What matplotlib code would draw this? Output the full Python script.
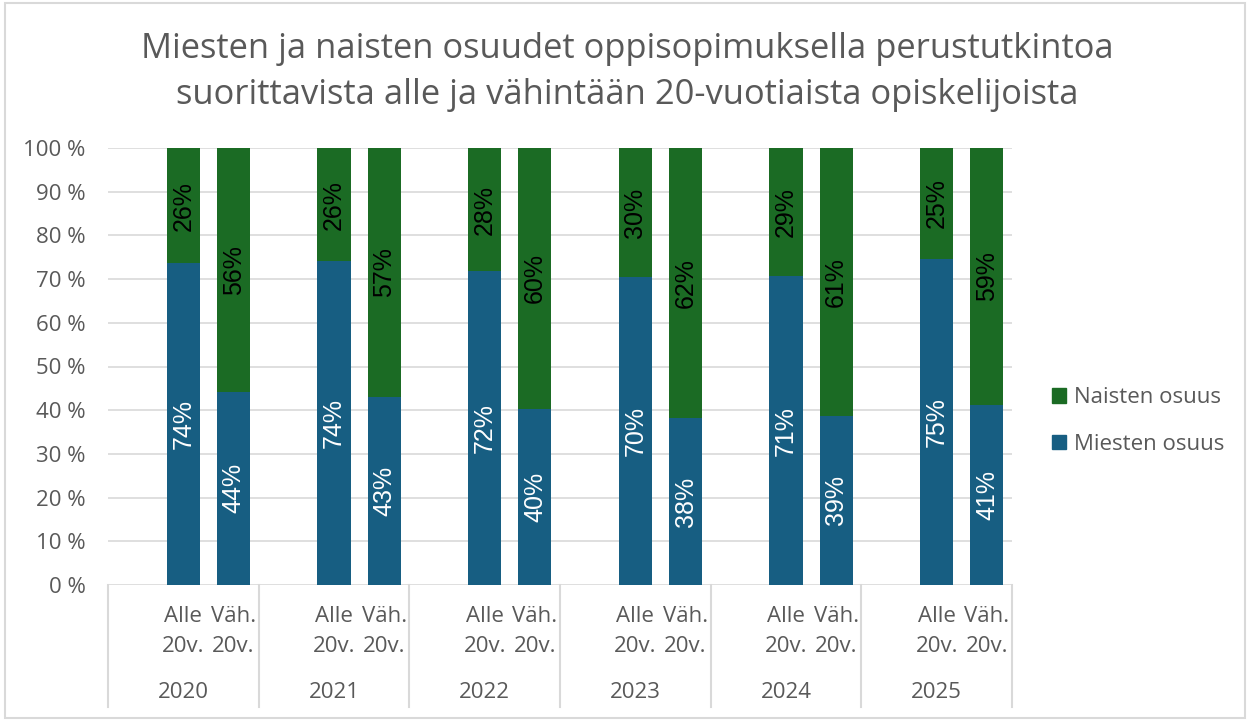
import numpy as np
import matplotlib
matplotlib.use("Agg")
import matplotlib.pyplot as plt
from matplotlib.patches import Rectangle, Patch
import matplotlib.transforms as mtransforms

# data (percent)
vuodet = ["2020", "2021", "2022", "2023", "2024", "2025"]
ryhmat = ["Alle\n20v.", "Väh.\n20v."]
miehet_alle = [73.6, 74.1, 71.8, 70.4, 70.6, 74.6]
miehet_vah = [44.2, 43.0, 40.3, 38.2, 38.7, 41.2]

sininen = "#175E82"
vihrea = "#1B6B24"
harmaa = "#595959"
viiva = "#D9D9D9"
fontti = ["Open Sans", "DejaVu Sans"]

plt.rcParams["font.family"] = fontti

fig = plt.figure(figsize=(12.49, 7.2), dpi=100)
W, H = 1249, 720
ax = fig.add_axes([108 / W, 1 - 585 / H, (1012 - 108) / W, (585 - 148) / H])

# each year: empty slot, Alle, Väh.
x = []
miehet = []
labels = []
for i in range(len(vuodet)):
    x += [3 * i + 1, 3 * i + 2]
    miehet += [miehet_alle[i], miehet_vah[i]]
    labels += ryhmat
x = np.array(x)
miehet = np.array(miehet)
naiset = 100 - miehet

leveys = 0.66
ax.bar(x, miehet, leveys, color=sininen, zorder=3)
ax.bar(x, naiset, leveys, bottom=miehet, color=vihrea, zorder=3)

for xi, m, n in zip(x, miehet, naiset):
    ax.text(xi, m / 2, f"{round(m)}%", rotation=90, ha="center", va="center",
            color="white", fontsize=18, family="Liberation Sans", zorder=4)
    ax.text(xi, m + n / 2, f"{round(n)}%", rotation=90, ha="center", va="center",
            color="black", fontsize=18, family="Liberation Sans", zorder=4)

ax.set_xlim(-0.5, 17.5)
ax.set_ylim(0, 100)
ax.set_yticks(np.arange(0, 101, 10))
ax.set_yticklabels([f"{v} %" for v in range(0, 101, 10)])
ax.yaxis.grid(True, color=viiva, lw=1.2, zorder=0)
for s in ax.spines.values():
    s.set_visible(False)
ax.tick_params(axis="y", length=0, pad=16, labelsize=16, labelcolor=harmaa)

ax.set_xticks(x)
ax.set_xticklabels(labels, fontsize=16, color=harmaa, linespacing=1.55)
ax.tick_params(axis="x", length=0, pad=15)

trans = mtransforms.blended_transform_factory(ax.transData, ax.transAxes)
for k in range(len(vuodet) + 1):
    ax.plot([3 * k - 0.5, 3 * k - 0.5], [0, -0.279], transform=trans,
            color=viiva, lw=1.5, clip_on=False)
for i, v in enumerate(vuodet):
    ax.text(3 * i + 1.0, -0.247, v, transform=trans, ha="center", va="center",
            fontsize=16, color=harmaa)

fig.text(0.502, 0.9,
         "Miesten ja naisten osuudet oppisopimuksella perustutkintoa\n"
         "suorittavista alle ja vähintään 20-vuotiaista opiskelijoista",
         ha="center", va="center", fontsize=24.8, color=harmaa, linespacing=1.5)

kahvat = [Patch(color=vihrea, label="Naisten osuus"),
          Patch(color=sininen, label="Miesten osuus")]
fig.legend(handles=kahvat, loc="center left", bbox_to_anchor=(1032 / W, 1 - 421 / H),
           frameon=False, fontsize=16, labelcolor=harmaa, handlelength=0.65,
           handleheight=0.65, handletextpad=0.35, labelspacing=1.15)

fig.patches.append(Rectangle((5 / W, 2 / H), 1240 / W, 715 / H, transform=fig.transFigure,
                             fill=False, edgecolor=viiva, lw=1.5))

fig.savefig("out.png", dpi=100)
